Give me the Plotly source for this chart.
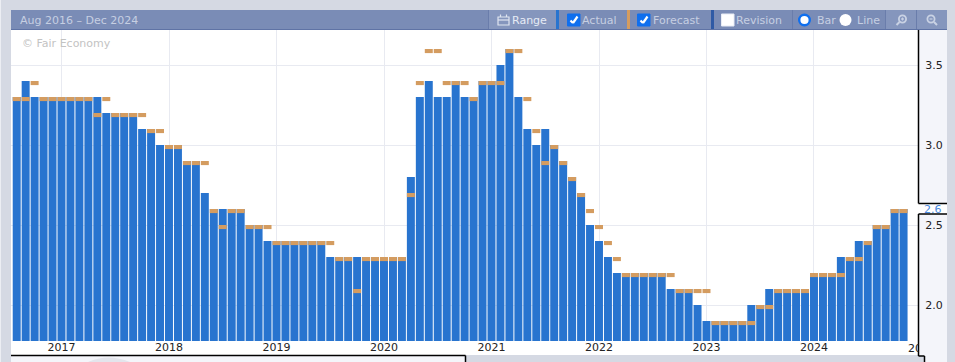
import pandas as pd
import plotly.graph_objects as go

START_MONTH = "2016-08-01"
actual = [
    3.3, 3.4, 3.3, 3.3, 3.3, 3.3, 3.3, 3.3, 3.3, 3.3,
    3.2, 3.2, 3.2, 3.2, 3.1, 3.1, 3.0, 3.0, 3.0, 2.9,
    2.9, 2.7, 2.6, 2.6, 2.6, 2.6, 2.5, 2.5, 2.4, 2.4,
    2.4, 2.4, 2.4, 2.4, 2.4, 2.3, 2.3, 2.3, 2.3, 2.3,
    2.3, 2.3, 2.3, 2.3, 2.8, 3.3, 3.4, 3.3, 3.3, 3.4,
    3.3, 3.3, 3.4, 3.4, 3.5, 3.6, 3.3, 3.1, 3.0, 3.1,
    3.0, 2.9, 2.8, 2.7, 2.5, 2.4, 2.3, 2.2, 2.2, 2.2,
    2.2, 2.2, 2.2, 2.1, 2.1, 2.1, 2.0, 1.9, 1.9, 1.9,
    1.9, 1.9, 2.0, 2.0, 2.1, 2.1, 2.1, 2.1, 2.1, 2.2,
    2.2, 2.2, 2.3, 2.3, 2.4, 2.4, 2.5, 2.5, 2.6, 2.6,
]
forecast = [
    3.3, 3.3, 3.4, 3.3, 3.3, 3.3, 3.3, 3.3, 3.3, 3.2,
    3.3, 3.2, 3.2, 3.2, 3.2, 3.1, 3.1, 3.0, 3.0, 2.9,
    2.9, 2.9, 2.6, 2.5, 2.6, 2.6, 2.5, 2.5, 2.5, 2.4,
    2.4, 2.4, 2.4, 2.4, 2.4, 2.4, 2.3, 2.3, 2.1, 2.3,
    2.3, 2.3, 2.3, 2.3, 2.7, 3.4, 3.6, 3.6, 3.4, 3.4,
    3.4, 3.3, 3.4, 3.4, 3.4, 3.6, 3.6, 3.3, 3.1, 2.9,
    3.0, 2.9, 2.8, 2.7, 2.6, 2.5, 2.4, 2.3, 2.2, 2.2,
    2.2, 2.2, 2.2, 2.2, 2.1, 2.1, 2.1, 2.1, 1.9, 1.9,
    1.9, 1.9, 1.9, 2.0, 2.0, 2.1, 2.1, 2.1, 2.1, 2.2,
    2.2, 2.2, 2.2, 2.3, 2.3, 2.4, 2.5, 2.5, 2.6, 2.6,
]
y_ticks = [2.0, 2.5, 3.0, 3.5]
latest_label = "2.6"
range_title = "Aug 2016 – Dec 2024"
copyright_text = "© Fair Economy"

W, H = 955, 362
L, R, T, B = 11, 918, 30, 341
PAGE = "#d5d9e3"
PANEL = "#f4f5fa"
HEAD = "#7a8cb6"
BTN = "#8596bd"
HTEXT = "#c6cfe2"
BLUE = "#2874cf"
TAN = "#d49c60"
CHECK = "#0f6fee"
FONT = "DejaVu Sans"

months = pd.date_range(START_MONTH, periods=len(actual), freq="MS")
idx = list(range(len(months)))
year_ticks = [i for i, m in zip(idx, months) if m.month == 1]
year_text = [str(months[i].year) for i in year_ticks]
MARK_H = 4.1 / 160  # 4 px tall dash, in value units


def px(x):
    return (x - L) / (R - L)


def py(y):
    return (B - y) / (B - T)


shapes, ann = [], []


def rect(x0, y0, x1, y1, fill, line=None, lw=0, layer="above"):
    shapes.append(dict(type="rect", xref="paper", yref="paper", x0=px(x0), x1=px(x1), y0=py(y0), y1=py(y1),
                       fillcolor=fill, line=dict(color=line or fill, width=lw), layer=layer))


def seg(x0, y0, x1, y1, color="#000000", lw=1.5):
    shapes.append(dict(type="line", xref="paper", yref="paper", x0=px(x0), x1=px(x1), y0=py(y0), y1=py(y1),
                       line=dict(color=color, width=lw), layer="above"))


def circle(cx, cy, r, fill, line=None, lw=0):
    shapes.append(dict(type="circle", xref="paper", yref="paper", x0=px(cx - r), x1=px(cx + r), y0=py(cy - r), y1=py(cy + r),
                       fillcolor=fill, line=dict(color=line or fill, width=lw), layer="above"))


def text(x, y, s, color=HTEXT, size=11, anchor="left", **kw):
    ann.append(dict(xref="paper", yref="paper", x=px(x), y=py(y), text=s, showarrow=False, xanchor=anchor, yanchor="middle",
                    font=dict(family=FONT, size=size, color=color), borderpad=0, borderwidth=0, **kw))


def checkbox(x, checked):
    shapes.append(dict(type="rect", xref="paper", yref="paper", x0=px(x), x1=px(x + 12.5), y0=py(14), y1=py(26),
                       fillcolor=CHECK if checked else "#ffffff", line=dict(color="#e8ecf5" if not checked else CHECK, width=1), layer="above"))
    if checked:
        seg(x + 3, 20.5, x + 5.5, 23, "#ffffff", 2.2)
        seg(x + 5.5, 23, x + 10, 16.5, "#ffffff", 2.2)


# page chrome, kept beneath the axis labels
rect(0, 0, W, 10, PAGE, layer="below")
rect(1, 10, L, H, PAGE, layer="below")
rect(0, 0, 1, H, "#eceef3", layer="below")
rect(L, 355, 465.5, H, PANEL, layer="below")
rect(465.5, 355, 924, H, PAGE, layer="below")
rect(R, 30, 947, 203, PANEL, layer="below")
rect(R, 214, 947, 356, PANEL, layer="below")
rect(924, 356, 947, H, PANEL, layer="below")
rect(947, 10, W, H, PAGE, layer="below")
shapes.append(dict(type="path", xref="paper", yref="paper",
                   path=f"M {px(88)} {py(362)} Q {px(108)} {py(353)} {px(130)} {py(362)} Z",
                   fillcolor="#e3e5ec", line=dict(width=0), layer="below"))

# frame lines
seg(L, 355.5, 465.5, 355.5)
seg(465.5, 355.5, 465.5, H)
seg(R + 0.5, 30, R + 0.5, 203.5)
seg(R + 0.5, 203.5, 947, 203.5)
seg(R + 0.5, 214, 947, 214)
seg(R + 0.5, 214, R + 0.5, 356)
seg(R + 0.5, 356, 924.5, 356)
seg(924.5, 356, 924.5, H)

# header
rect(L, 10, 947, 29, HEAD)
rect(L, 29, 947, 30, "#5f73a5")
rect(488, 10, 556, 29, BTN)
rect(886, 10, 947, 29, BTN)
rect(556, 10, 559, 29, BLUE)
rect(627, 10, 630, 29, TAN)
rect(711, 10, 714, 29, "#2f5aa5")
for sx in (488, 792, 885, 916):
    rect(sx, 10, sx + 1, 29, "#6a7dab")

text(20, 20, range_title)
text(22, 43.5, copyright_text, color="#c3c3c3")

# Range button with calendar icon
rect(498, 17, 509, 25, "rgba(0,0,0,0)", "#dfe5f0", 1.2)
seg(498, 20, 509, 20, "#dfe5f0", 1.2)
seg(500.5, 14.5, 500.5, 17, "#dfe5f0", 1.2)
seg(506.5, 14.5, 506.5, 17, "#dfe5f0", 1.2)
text(512, 20, "Range", color="#e6ebf5")

checkbox(567.5, True)
text(582, 20, "Actual")
checkbox(637.5, True)
text(653, 20, "Forecast")
checkbox(721.5, False)
text(736, 20, "Revision")

circle(804.5, 20, 5.3, "#ffffff", "#0f6fee", 2.4)
text(817, 20, "Bar")
circle(845.5, 20, 6, "#ffffff")
text(857, 20, "Line")

# zoom icons
circle(902.5, 19, 3.6, "rgba(0,0,0,0)", "#c9d2e4", 1.8)
seg(899.5, 22, 896.5, 25, "#c9d2e4", 2)
seg(901, 19, 904, 19, "#c9d2e4", 1.2)
seg(902.5, 17.5, 902.5, 20.5, "#c9d2e4", 1.2)
circle(931, 19, 3.6, "rgba(0,0,0,0)", "#c9d2e4", 1.8)
seg(934, 22, 937, 25, "#c9d2e4", 2)
seg(929.5, 19, 932.5, 19, "#c9d2e4", 1.2)

# latest value flag and the clipped next-year tick label
text(933.5, 209, latest_label, color="#4a8ae0", anchor="center")
next_year = str(months[-1].year + 1)
text(908, 348, next_year, color="#222222", width=10.5, align="left")

fig = go.Figure()
fig.add_bar(x=idx, y=actual, name="Actual", marker=dict(color=BLUE, line=dict(width=0)), width=0.89)
fig.add_bar(x=idx, y=[MARK_H] * len(forecast), base=[f - MARK_H for f in forecast], name="Forecast",
            marker=dict(color=TAN, line=dict(width=0)), width=0.89)

fig.update_layout(
    width=W, height=H, autosize=False, showlegend=False, barmode="overlay",
    margin=dict(l=L, r=W - R, t=T, b=H - B, pad=0, autoexpand=False),
    paper_bgcolor="#ffffff", plot_bgcolor="#ffffff",
    font=dict(family=FONT, size=11, color="#222222"),
    shapes=shapes, annotations=ann,
)
fig.update_xaxes(range=[-0.637, 100.61], tickmode="array", tickvals=year_ticks, ticktext=year_text, automargin=False,
                 showgrid=True, gridcolor="#e8eaf1", gridwidth=1, zeroline=False, showline=False,
                 ticks="", ticklabelstandoff=-2, tickangle=0,
                 tickfont=dict(family=FONT, size=11, color="#222222"))
fig.update_yaxes(range=[1.775, 3.71875], side="right", tickmode="array", tickvals=y_ticks, automargin=False,
                 ticktext=[f"{v:.1f}" for v in y_ticks],
                 showgrid=True, gridcolor="#e8eaf1", gridwidth=1, zeroline=False, showline=False,
                 ticks="outside", ticklen=4, tickcolor="rgba(0,0,0,0)",
                 tickfont=dict(family=FONT, size=11, color="#222222"))

fig.write_html("out.html", config=dict(displayModeBar=False),
               post_script="document.body.style.margin='0';document.body.style.overflow='hidden';")
